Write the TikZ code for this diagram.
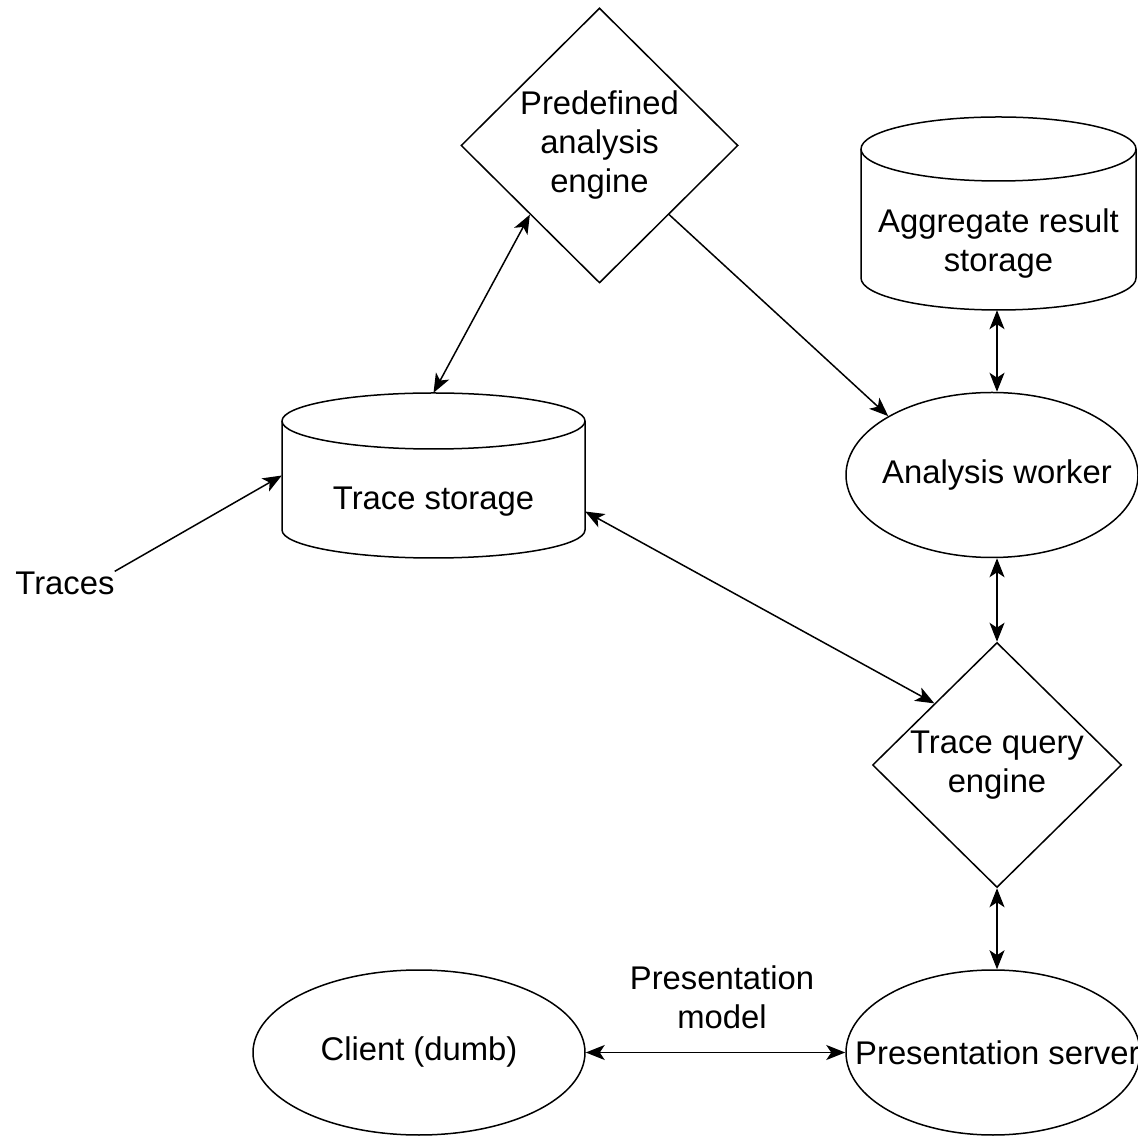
\documentclass[tikz,border=0pt]{standalone}
\usepackage{fontspec}
\setmainfont{Liberation Sans}
\usetikzlibrary{shapes.geometric,arrows.meta}
\newcommand\drawcylinder[5]{% L R T B ry
  \pgfmathsetmacro\cylrx{(#2-#1)/2}
  \draw[shapeline] (#1,#3-#5) -- (#1,#4+#5) arc[start angle=180,end angle=360,x radius=\cylrx pt,y radius=#5pt] -- (#2,#3-#5) arc[start angle=0,end angle=180,x radius=\cylrx pt,y radius=#5pt] -- cycle;
  \draw[shapeline] (#1,#3-#5) arc[start angle=180,end angle=360,x radius=\cylrx pt,y radius=#5pt];
}
\begin{document}
\begin{tikzpicture}[x=1pt,y=1pt,
  every node/.style={font=\fontsize{32.8}{39}\selectfont, align=center, text=black},
  shapeline/.style={draw=black, line width=1.5pt},
  diam/.style={diamond, shapeline, inner sep=0pt, aspect=1},
  ell/.style={ellipse, shapeline, inner sep=0pt},
  box/.style={rectangle, draw=none, inner sep=0pt},
  txt/.style={inner sep=0pt},
  conn/.style={line width=1.5pt, draw=black},
  tip/.style={-{Stealth[length=19pt,width=15pt,inset=5pt]}},
  both/.style={{Stealth[length=19pt,width=15pt,inset=5pt]}-{Stealth[length=19pt,width=15pt,inset=5pt]}}
]
\useasboundingbox (0,0) rectangle (1138,1136);

% cylinders (drawn)
\drawcylinder{282}{585}{743}{578}{28}
\drawcylinder{861}{1136}{1019}{826}{32}
\node[box, minimum width=303pt, minimum height=165pt] (ts) at (433.5,660.5) {};
\node[txt] (tstext) at (433.5,634) {Trace storage};
\node[box, minimum width=275pt, minimum height=193pt] (ag) at (997,922.5) {};
\node[txt] (agtext) at (998.5,892) {Aggregate result\\storage};

% diamonds
\node[diam, minimum width=277pt, minimum height=275pt] (pd) at (599.5,990.5) {Predefined\\analysis\\engine};
\node[diam, minimum width=249pt, minimum height=245pt] (tq) at (997,371) {Trace query\\engine};

% ellipses
\node[ell, minimum width=292pt, minimum height=165pt] (aw) at (992,661) {};
\node[txt] (awtext) at (997,661) {Analysis worker};
\node[ell, minimum width=294pt, minimum height=165pt] (ps) at (993,83.5) {};
\node[txt, anchor=west] (pstext) at (855,83.5) {Presentation server};
\node[ell, minimum width=332pt, minimum height=165pt] (cl) at (419,83.5) {};
\node[txt] (cltext) at (419,83.5) {Client (dumb)};

% free labels
\node[txt] (traces) at (65,553) {Traces};
\node[txt] (pm) at (722,139) {Presentation\\model};

% connectors
\draw[conn,tip] (traces.north east) -- (ts.west);
\draw[conn,both] (ts.north) -- (pd.south west);
\draw[conn,tip] (pd.south east) -- (aw.north west);
\draw[conn,both] (ag.south) -- (ag.south |- aw.north);
\draw[conn,both] ([yshift=-36pt]ts.east) -- (tq.north west);
\draw[conn,both] (tq.north |- aw.south) -- (tq.north);
\draw[conn,both] (tq.south) -- (tq.south |- ps.north);
\draw[conn,both] (cl.east) -- (ps.west);
\end{tikzpicture}
\end{document}
